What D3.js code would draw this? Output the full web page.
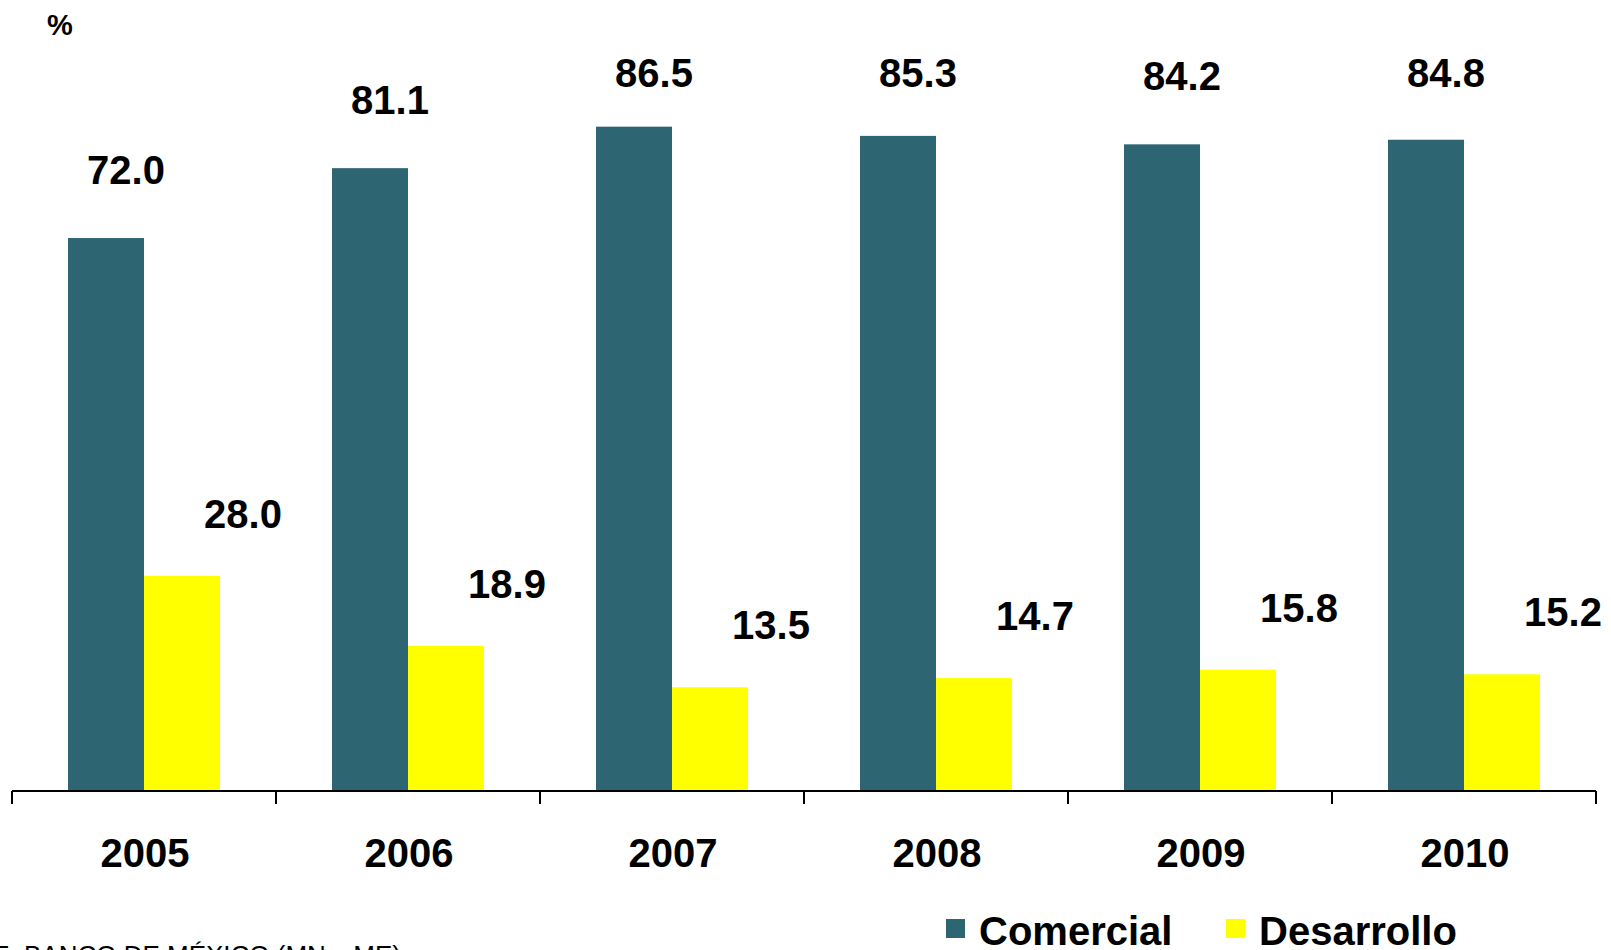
<!DOCTYPE html>
<html>
<head>
<meta charset="utf-8">
<script src="https://cdn.jsdelivr.net/npm/d3@7"></script>
<style>
  body { margin: 0; background: #fff; }
  svg { font-family: "Liberation Sans", Arial, sans-serif; }
  .val { font-size: 40px; font-weight: bold; fill: #000; }
  .year { font-size: 40px; font-weight: bold; fill: #000; }
  .legText { font-size: 40px; font-weight: bold; fill: #000; }
</style>
</head>
<body>
<div id="chart"></div>
<script>
/*******  Data ******/
const years = ["2005", "2006", "2007", "2008", "2009", "2010"];
const series = ["Comercial", "Desarrollo"];
const comercial = [72.0, 81.1, 86.5, 85.3, 84.2, 84.8];
const desarrollo = [28.0, 18.9, 13.5, 14.7, 15.8, 15.2];
const colors = ["#2D6573", "#FFFF00"];

/*******  Layout ******/
const svgW = 1611;
const svgH = 950;
const axisY = 791;

var svg = d3.select("#chart")
  .append("svg")
  .attr("width", svgW)
  .attr("height", svgH);

// Scales
var x = d3.scaleBand()
  .domain(years)
  .range([12, 1596])
  .padding(0);

var xInner = d3.scaleBand()
  .domain(series)
  .range([0, x.bandwidth()])
  .paddingInner(0)
  .paddingOuter(0.737);

var y = d3.scaleLinear()
  .domain([0, 100])
  .range([axisY, 23]);

// Build rows for drawing
var rows = [];
years.forEach(function(yr, i) {
  rows.push({ year: yr, key: "Comercial", value: comercial[i] });
  rows.push({ year: yr, key: "Desarrollo", value: desarrollo[i] });
});
var colorOf = d3.scaleOrdinal().domain(series).range(colors);

// Bars
// ==============================
svg.append("g")
  .selectAll("rect")
  .data(rows)
  .enter()
  .append("rect")
  .attr("x", d => x(d.year) + xInner(d.key))
  .attr("y", d => y(d.value))
  .attr("width", xInner.bandwidth())
  .attr("height", d => axisY - y(d.value))
  .attr("fill", d => colorOf(d.key));

// Value labels (offset up and to the right of each bar, kept inside the top)
// ==============================
svg.append("g")
  .selectAll("text")
  .data(rows)
  .enter()
  .append("text")
  .attr("class", "val")
  .attr("text-anchor", "middle")
  .attr("x", d => x(d.year) + xInner(d.key) + xInner.bandwidth() / 2 + (d.key === "Comercial" ? 20 : 61))
  .attr("y", d => d.key === "Comercial" ? Math.max(y(d.value) - 54, 87) : y(d.value) - 48)
  .text(d => d.value.toFixed(1));

// Axis line and ticks at category boundaries
// ==============================
var axisG = svg.append("g");
axisG.append("line")
  .attr("x1", x.range()[0])
  .attr("x2", x.range()[1])
  .attr("y1", axisY)
  .attr("y2", axisY)
  .attr("stroke", "#000")
  .attr("stroke-width", 2);

var bounds = years.map(d => x(d)).concat([x.range()[1]]);
axisG.selectAll("line.tick")
  .data(bounds)
  .enter()
  .append("line")
  .attr("class", "tick")
  .attr("x1", d => d)
  .attr("x2", d => d)
  .attr("y1", axisY)
  .attr("y2", axisY + 13)
  .attr("stroke", "#000")
  .attr("stroke-width", 2);

axisG.selectAll("text")
  .data(years)
  .enter()
  .append("text")
  .attr("class", "year")
  .attr("text-anchor", "middle")
  .attr("x", d => x(d) + x.bandwidth() / 2 + 1)
  .attr("y", 867)
  .text(d => d);

// Unit label
svg.append("text")
  .attr("x", 47)
  .attr("y", 35)
  .style("font-size", "29px")
  .style("font-weight", "bold")
  .text("%");

// Legend
// ==============================
const legendX = [946, 1226];
var legend = svg.append("g");
series.forEach(function(s, i) {
  legend.append("rect")
    .attr("x", legendX[i])
    .attr("y", 919)
    .attr("width", 19)
    .attr("height", 19)
    .attr("fill", colors[i]);
  legend.append("text")
    .attr("class", "legText")
    .attr("x", legendX[i] + 33)
    .attr("y", 945)
    .text(s);
});

// Source note (cut by the bottom edge)
svg.append("text")
  .attr("x", 401)
  .attr("y", 964)
  .attr("text-anchor", "end")
  .style("font-size", "26px")
  .text("FUENTE: BANCO DE MÉXICO (MN y ME)");
</script>
</body>
</html>
